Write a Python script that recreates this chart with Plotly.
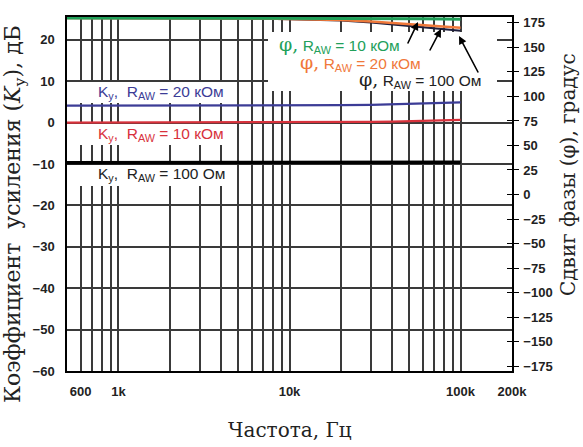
import plotly.graph_objects as go

# ---- data ----
freq = [500, 1000, 2000, 3000, 5000, 7000, 10000, 20000, 30000, 40000, 60000, 80000, 100000]
ky_20k = [4.1, 4.1, 4.1, 4.1, 4.1, 4.1, 4.15, 4.2, 4.3, 4.4, 4.6, 4.75, 4.9]
ky_10k = [0.0, 0.0, 0.0, 0.0, 0.0, 0.0, 0.02, 0.08, 0.15, 0.25, 0.4, 0.55, 0.65]
ky_100 = [-9.7, -9.7, -9.7, -9.7, -9.7, -9.7, -9.7, -9.7, -9.68, -9.66, -9.64, -9.62, -9.6]
phi_10k = [180, 180, 180, 180, 180, 180, 180, 179.9, 179.8, 179.6, 179.3, 179.0, 178.6]
phi_20k = [180, 180, 180, 179.9, 179.8, 179.5, 179, 178, 176.5, 175, 173, 171.5, 170]
phi_100 = [180, 180, 180, 179.9, 179.7, 179.4, 178.8, 177.5, 175.5, 173.5, 171, 169, 167]

x_tickvals = [600, 1000, 10000, 100000, 200000]
x_ticktext = ["600", "1k", "10k", "100k", "200k"]
x_minor = [700, 800, 900, 2000, 3000, 4000, 5000, 6000, 7000, 8000, 9000,
           20000, 30000, 40000, 50000, 60000, 70000, 80000, 90000]
y_ticks = [-60, -50, -40, -30, -20, -10, 0, 10, 20]
y2_ticks = [-175, -150, -125, -100, -75, -50, -25, 0, 25, 50, 75, 100, 125, 150, 175]

GREEN = "#22a05a"
ORANGE = "#f0783a"
BLUE = "#3c3c96"
RED = "#d8323c"
DARK = "#1e1e3c"
GRID = "#3a3a3a"

fig = go.Figure()
fig.add_trace(go.Scatter(x=freq, y=ky_20k, mode="lines", line=dict(color=BLUE, width=2.2)))
fig.add_trace(go.Scatter(x=freq, y=ky_10k, mode="lines", line=dict(color=RED, width=2.2)))
fig.add_trace(go.Scatter(x=freq, y=ky_100, mode="lines", line=dict(color="black", width=3.5)))
fig.add_trace(go.Scatter(x=freq, y=phi_100, mode="lines", line=dict(color=DARK, width=2.2), yaxis="y2"))
fig.add_trace(go.Scatter(x=freq, y=phi_20k, mode="lines", line=dict(color=ORANGE, width=2.5), yaxis="y2"))
fig.add_trace(go.Scatter(x=freq, y=phi_10k, mode="lines", line=dict(color=GREEN, width=3), yaxis="y2"))
fig.add_trace(go.Scatter(x=[], y=[], yaxis="y3", showlegend=False))

tickfont = dict(family="Liberation Sans, Arial", size=13, color="#222222", weight="bold")
sans = "Liberation Sans, Arial"
serif = "DejaVu Serif"

L, R, T, B = 67, 512, 17, 371
W, H = 583, 447

fig.update_layout(
    width=W, height=H,
    margin=dict(l=L, r=W - R, t=T, b=H - B, autoexpand=False),
    paper_bgcolor="white", plot_bgcolor="white",
    showlegend=False,
    xaxis=dict(
        type="log", range=[2.69897, 5.30103], automargin=False,
        tickmode="array", tickvals=x_tickvals, ticktext=x_ticktext,
        tickfont=tickfont, ticks="", ticklabelstandoff=8,
        showgrid=True, gridcolor=GRID, gridwidth=1.5,
        minor=dict(tickmode="array", tickvals=x_minor, showgrid=True, gridcolor=GRID, gridwidth=1.5, ticks=""),
        showline=True, linecolor="black", linewidth=1.5, mirror=True, zeroline=False,
    ),
    yaxis=dict(
        range=[-60, 25.5], tickmode="array", tickvals=y_ticks, automargin=False,
        tickfont=tickfont, ticks="", ticklabelstandoff=8,
        showgrid=True, gridcolor=GRID, gridwidth=1.5,
        showline=True, linecolor="black", linewidth=1.5, mirror=True, zeroline=False,
    ),
    yaxis2=dict(
        overlaying="y", side="right", range=[-180, 181], automargin=False,
        tickmode="array", tickvals=y2_ticks, tickfont=tickfont,
        ticks="outside", ticklen=5, tickwidth=1.2, tickcolor="black", ticklabelstandoff=2,
        showgrid=False, zeroline=False, showline=True, linecolor="black", linewidth=1.5,
    ),
    yaxis3=dict(
        overlaying="y", side="right", range=[-180, 181], automargin=False,
        tickmode="array", tickvals=y2_ticks, showticklabels=False,
        ticks="inside", ticklen=5, tickwidth=1.2, tickcolor="black",
        showgrid=False, zeroline=False, showline=False,
    ),
)


def px_x(p):
    return (p - L) / (R - L)


def px_y(p):
    return (B - p) / (B - T)


# white background boxes that interrupt the grid behind the labels
boxes = [
    dict(x0=70, y0=82, x1=224, y1=103),
    dict(x0=70, y0=124, x1=224, y1=145),
    dict(x0=70, y0=165, x1=224, y1=186),
    dict(x0=268, y0=32, x1=497, y1=91),
]
for b in boxes:
    fig.add_annotation(
        xref="paper", yref="paper", x=px_x(b["x0"]), y=px_y(b["y0"]),
        xanchor="left", yanchor="top", showarrow=False, text="\u00a0",
        width=b["x1"] - b["x0"], height=b["y1"] - b["y0"],
        bgcolor="white", borderpad=0, borderwidth=0,
    )

GAP = "&nbsp;&nbsp;"


def ky_label(value):
    return "K<sub>у</sub>," + GAP + "R<sub>AW</sub> = " + value


def phi_label(value):
    return ('<span style="font-family:DejaVu Serif;font-size:19px">φ,</span> R<sub>AW</sub> = ' + value)


anns = [
    dict(x=96, y=92, text=ky_label("20 кОм"), color=BLUE),
    dict(x=96, y=134, text=ky_label("10 кОм"), color=RED),
    dict(x=96, y=174, text=ky_label("100 Ом"), color="#222222"),
    dict(x=277, y=44, text=phi_label("10 кОм"), color=GREEN),
    dict(x=298, y=62, text=phi_label("20 кОм"), color=ORANGE),
    dict(x=357, y=80, text=phi_label("100 Ом"), color="#222222"),
]
for a in anns:
    fig.add_annotation(
        xref="paper", yref="paper",
        x=px_x(a["x"]), y=px_y(a["y"]),
        xanchor="left", yanchor="middle", showarrow=False,
        text=a["text"], font=dict(family=sans, size=15.5, color=a["color"]),
    )

# arrows pointing from labels to phase curves (head pixel position, tail offset)
arrows = [
    dict(hx=418, hy=22, ax=-11, ay=23),
    dict(hx=441, hy=29, ax=-12, ay=23),
    dict(hx=459, hy=36, ax=20, ay=38),
]
for a in arrows:
    fig.add_annotation(
        xref="paper", yref="paper", x=px_x(a["hx"]), y=px_y(a["hy"]),
        axref="pixel", ayref="pixel", ax=a["ax"], ay=a["ay"],
        text="", showarrow=True, arrowhead=2, arrowsize=1,
        arrowwidth=1.6, arrowcolor="black", standoff=0, startstandoff=0,
    )

# axis titles
fig.add_annotation(
    xref="paper", yref="paper", x=px_x(15), y=px_y(214),
    text="Коэффициент&nbsp;&nbsp;усиления (<i>K</i><sub>у</sub>), дБ", textangle=-90,
    showarrow=False, xanchor="center", yanchor="middle",
    font=dict(family=serif, size=22, color="#222222"),
)
fig.add_annotation(
    xref="paper", yref="paper", x=px_x(568), y=px_y(175),
    text="Сдвиг фазы (φ), градус", textangle=-90,
    showarrow=False, xanchor="center", yanchor="middle",
    font=dict(family=serif, size=20, color="#222222"),
)
fig.add_annotation(
    xref="paper", yref="paper", x=0.5, y=px_y(430),
    text="Частота, Гц", showarrow=False, xanchor="center", yanchor="middle",
    font=dict(family=serif, size=20, color="#222222"),
)

fig.write_html(
    "out.html",
    config={"displayModeBar": False},
    post_script="document.body.style.margin='0';document.body.style.overflow='hidden';",
)
